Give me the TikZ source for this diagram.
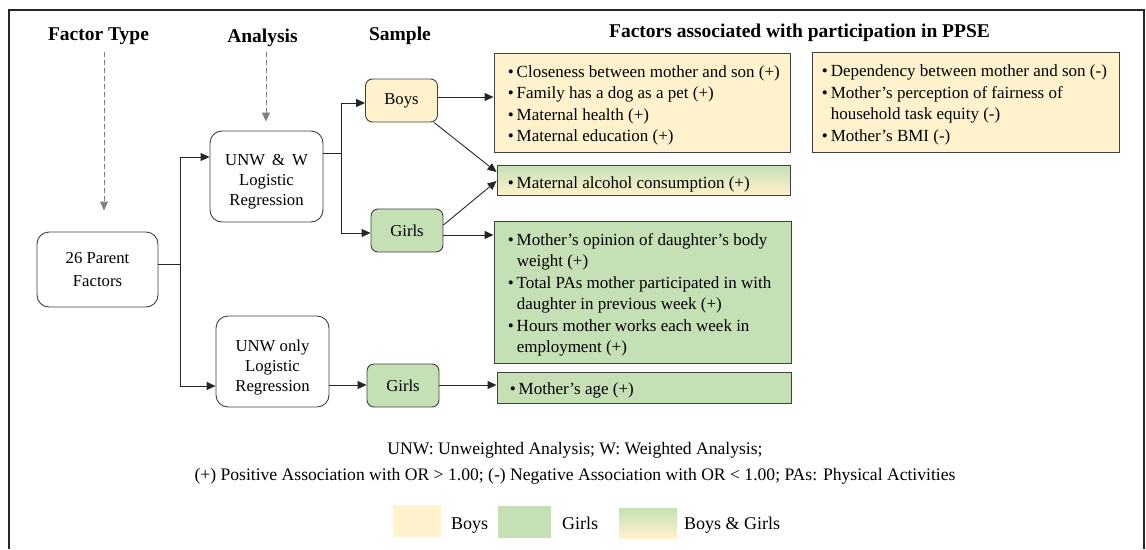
\documentclass[tikz,border=0pt]{standalone}
\usepackage{fontspec}
\setmainfont{Liberation Serif}
\usetikzlibrary{arrows.meta,calc}

\definecolor{boyfill}{HTML}{FFF2CC}
\definecolor{girlfill}{HTML}{C5E0B4}
\definecolor{edge}{HTML}{404040}

% bullet of fixed width for the factor lists
\newcommand{\blt}{\makebox[9pt][l]{\textbullet}}
\newcommand{\cont}{\hspace*{9pt}}

\tikzset{
  title/.style={font=\fontsize{19.5}{22}\selectfont\bfseries, inner sep=0pt},
  stage/.style={draw=edge, line width=0.9pt, rounded corners=12pt, fill=white,
    inner sep=0pt, minimum width=113pt, minimum height=91pt},
  stagetext/.style={align=center, font=\fontsize{16.7}{20}\selectfont, inner sep=0pt},
  sample/.style={draw=edge, line width=0.9pt, rounded corners=7pt, align=center,
    font=\fontsize{16.7}{20}\selectfont, inner sep=0pt,
    minimum width=72pt, minimum height=43pt},
  factorbox/.style={draw=edge, line width=0.9pt, inner sep=0pt},
  listtext/.style={align=left, font=\fontsize{17}{21.5}\selectfont, inner sep=0pt, anchor=west},
  swatch/.style={inner sep=0pt},
  legendtext/.style={font=\fontsize{18}{20}\selectfont, inner sep=0pt, anchor=base west},
  link/.style={draw=black!85, line width=0.9pt},
  arrow/.style={link, -{Triangle[length=9pt,width=8pt]}},
  hint/.style={draw=black!50, line width=1pt, dash pattern=on 5pt off 3pt,
    -{Triangle[length=9pt,width=8pt]}},
}

\begin{document}
\begin{tikzpicture}[x=1pt,y=-1pt]
\useasboundingbox (0,0) rectangle (1146,549);

% outer frame (open at the bottom)
\draw[line width=2pt, black!85] (9,549) -- (9,10) -- (1144,10) -- (1144,549);

% column headings
\node[title] (tFactor)   at (98.5,36)  {Factor Type};
\node[title] (tAnalysis) at (262.5,38) {Analysis};
\node[title] (tSample)   at (400,36)   {Sample};
\node[title] (tFactors)  at (799.5,33) {Factors associated with participation in PPSE};

% factor type and analyses
\node[stage, minimum width=121pt, minimum height=75pt] (parent) at (97.5,269.5) {};
\node[stagetext, font=\fontsize{16.7}{23}\selectfont] at (parent.center) {26 Parent\\Factors};
\node[stage] (unww) at (266.5,176.5) {};
\node[stagetext] at ([yshift=-5pt]unww.center) {UNW \,\&\, W\\Logistic\\Regression};
\node[stage] (unwo) at (272.5,361.5) {};
\node[stagetext] at ([yshift=-6pt]unwo.center) {UNW only\\Logistic\\Regression};

% samples
\node[sample, fill=boyfill]  (boys)   at (401.5,100.5) {Boys};
\node[sample, fill=girlfill] (girlsA) at (407,230.5)   {Girls};
\node[sample, fill=girlfill] (girlsB) at (403,385.5)   {Girls};

% factor boxes
\node[factorbox, fill=boyfill, minimum width=296pt, minimum height=99pt] (boysF) at (642,102.5) {};
\node[listtext] at ([xshift=14pt,yshift=-3pt]boysF.west) {%
  \blt Closeness between mother and son (+)\\
  \blt Family has a dog as a pet (+)\\
  \blt Maternal health (+)\\
  \blt Maternal education (+)};

\node[factorbox, top color=girlfill, bottom color=boyfill, minimum width=293pt, minimum height=30pt] (bothF) at (643.5,180) {};
\node[listtext] at ([xshift=11pt,yshift=-4pt]bothF.west) {\blt Maternal alcohol consumption (+)};

\node[factorbox, fill=girlfill, minimum width=297pt, minimum height=142pt] (girlsF) at (642.5,292) {};
\node[listtext] at ([xshift=14pt,yshift=-3pt]girlsF.west) {%
  \blt Mother’s opinion of daughter’s body\\
  \cont weight (+)\\
  \blt Total PAs mother participated in with\\
  \cont daughter in previous week (+)\\
  \blt Hours mother works each week in\\
  \cont employment (+)};

\node[factorbox, fill=girlfill, minimum width=294pt, minimum height=31pt] (girlsS) at (644,387.5) {};
\node[listtext] at ([xshift=13pt,yshift=-3pt]girlsS.west) {\blt Mother’s age (+)};

\node[factorbox, fill=boyfill, minimum width=307pt, minimum height=100pt] (boysN) at (965.5,102) {};
\node[listtext] at ([xshift=10pt,yshift=-3pt]boysN.west) {%
  \blt Dependency between mother and son (-)\\
  \blt Mother’s perception of fairness of\\
  \cont household task equity (-)\\
  \blt Mother’s BMI (-)};

% dashed hints from headings
\draw[hint] (104,52) -- (parent.north -| 104,0) [shorten >=21pt];
\draw[hint] (266,52) -- (unww.north -| 266,0) [shorten >=9pt];

% connectors
\coordinate (j1) at (180,264);
\draw[link] (parent.east |- j1) -- (j1);
\draw[arrow] (j1) |- (unww.west |- 0,157);
\draw[arrow] (j1) |- (unwo.west |- 0,386);

\coordinate (j2) at (341,153);
\draw[link] (unww.east |- j2) -- (j2);
\draw[arrow] (j2) |- (boys.west |- 0,103);
\draw[arrow] (j2) |- (girlsA.west |- 0,233);

\draw[arrow] (unwo.east |- 0,385) -- (girlsB.west |- 0,385);

\draw[arrow] (boys.east |- 0,97) -- (boysF.west |- 0,97);
\draw[arrow] ([xshift=-4pt]boys.south east) -- (bothF.west |- 0,172);
\draw[arrow] (girlsA.east |- 0,225) -- (bothF.west |- 0,181);
\draw[arrow] (girlsA.east |- 0,235) -- (girlsF.west |- 0,235);
\draw[arrow] (girlsB.east |- 0,385) -- (girlsS.west |- 0,385);

% notes
\node[font=\fontsize{17.6}{26}\selectfont, align=center, inner sep=0pt] (note) at (575,463)
  {UNW: Unweighted Analysis; W: Weighted Analysis;\\
   (+) Positive Association with OR > 1.00; (-) Negative Association with OR < 1.00; PAs: Physical Activities};

% legend
\node[swatch, fill=boyfill, minimum width=48pt, minimum height=32pt] (kBoys) at (417,521) {};
\node[legendtext] (lBoys) at (451,529) {Boys};
\node[swatch, fill=girlfill, minimum width=53pt, minimum height=32pt] (kGirls) at (524.5,522) {};
\node[legendtext] (lGirls) at (562,529) {Girls};
\node[swatch, top color=girlfill, bottom color=boyfill, minimum width=58pt, minimum height=30pt] (kBoth) at (648,523) {};
\node[legendtext] (lBoth) at (684,529) {Boys \& Girls};
\end{tikzpicture}
\end{document}
